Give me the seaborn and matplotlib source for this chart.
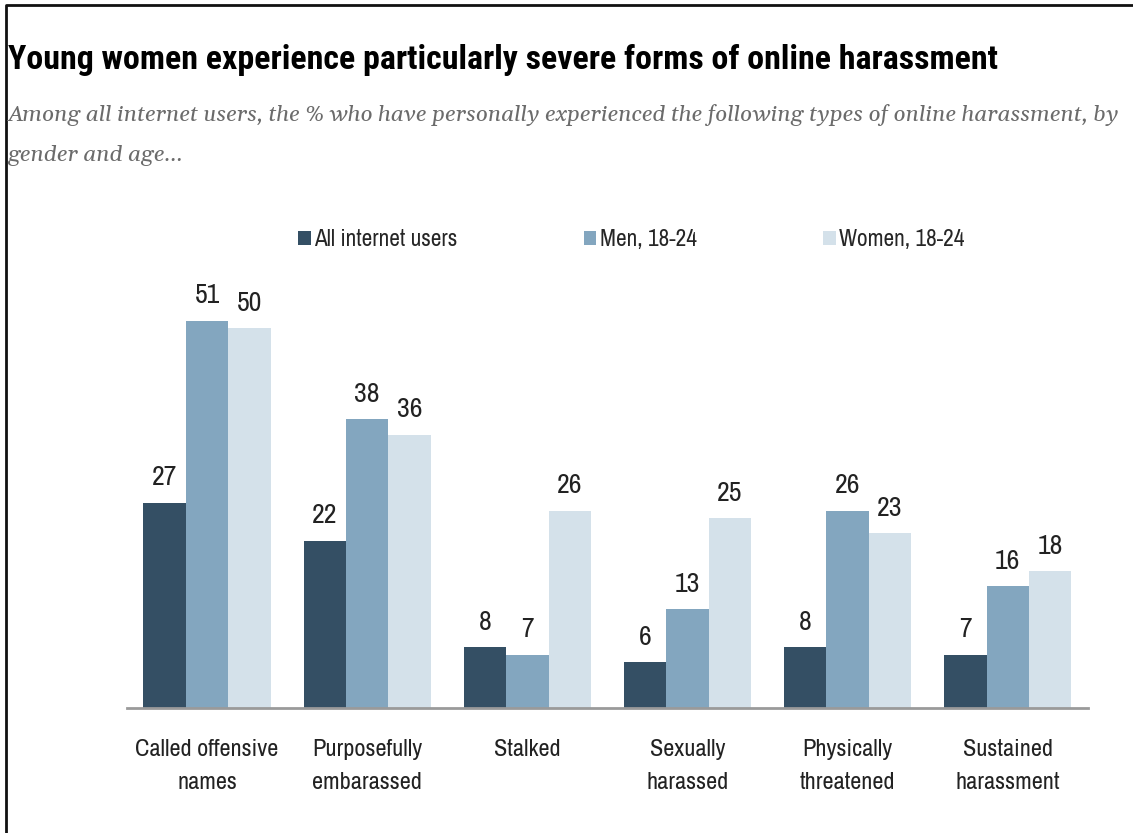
import matplotlib
matplotlib.use("Agg")
import matplotlib.pyplot as plt
from matplotlib.lines import Line2D
from matplotlib.patches import Patch
import seaborn as sns
import pandas as pd

categories = [
    "Called offensive\nnames",
    "Purposefully\nembarassed",
    "Stalked",
    "Sexually\nharassed",
    "Physically\nthreatened",
    "Sustained\nharassment",
]
groups = ["All internet users", "Men, 18-24", "Women, 18-24"]
all_users = [27, 22, 8, 6, 8, 7]
men_18_24 = [51, 38, 7, 13, 26, 16]
women_18_24 = [50, 36, 26, 25, 23, 18]
colors = ["#344f64", "#83a6bf", "#d4e1ea"]

df = pd.DataFrame({
    "category": categories * 3,
    "group": [groups[0]] * 6 + [groups[1]] * 6 + [groups[2]] * 6,
    "value": all_users + men_18_24 + women_18_24,
})

sns.set_style("white")
narrow = ["Archivo Narrow", "DejaVu Sans"]
title_font = ["Roboto Condensed", "DejaVu Sans"]
serif = ["Gelasio", "DejaVu Serif"]
plt.rcParams["font.family"] = narrow

fig = plt.figure(figsize=(11.33, 8.33), dpi=100)
ax = fig.add_axes([0.1121, 0.150, 0.848, 0.529])

sns.barplot(data=df, x="category", y="value", hue="group", order=categories,
            hue_order=groups, palette=colors, width=0.795, saturation=1,
            legend=False, ax=ax, edgecolor="none")

for container in ax.containers:
    ax.bar_label(container, fmt="%d", padding=9, fontsize=20,
                 color="#222222", family=narrow)

ax.set_xlim(-0.5, 5.5)
ax.set_ylim(0, 58)
ax.set_xlabel("")
ax.set_ylabel("")
ax.set_yticks([])
ax.tick_params(axis="x", length=0, pad=22, labelsize=17.5, labelcolor="#222222")
for lbl in ax.get_xticklabels():
    lbl.set_linespacing(1.75)
for s in ["top", "right", "left"]:
    ax.spines[s].set_visible(False)
ax.spines["bottom"].set_color("#9a9a9a")
ax.spines["bottom"].set_linewidth(2)

handles = [Patch(facecolor=c, edgecolor="none") for c in colors]
fig.legend(handles, groups, loc="center left", bbox_to_anchor=(0.263, 0.712),
           ncol=3, frameon=False, fontsize=16.8, handlelength=0.55,
           handleheight=0.55, handletextpad=0.15, columnspacing=5.4,
           borderpad=0, borderaxespad=0)

fig.text(0.007, 0.928, "Young women experience particularly severe forms of online harassment",
         fontsize=24.4, fontweight="bold", color="#000000", va="center", ha="left",
         family=title_font)
fig.text(0.006, 0.862,
         "Among all internet users, the % who have personally experienced the following types of online harassment, by",
         fontsize=16.25, style="italic", color="#6b6b6b", va="center", ha="left",
         family=serif)
fig.text(0.006, 0.813, "gender and age...",
         fontsize=16.25, style="italic", color="#6b6b6b", va="center", ha="left",
         family=serif)

# frame along the top and left edges
fig.add_artist(Line2D([0.0055, 0.0055, 1.0], [0.0, 0.994, 0.994],
                      transform=fig.transFigure, color="#111111", linewidth=2))

fig.savefig("out.png", dpi=100)
